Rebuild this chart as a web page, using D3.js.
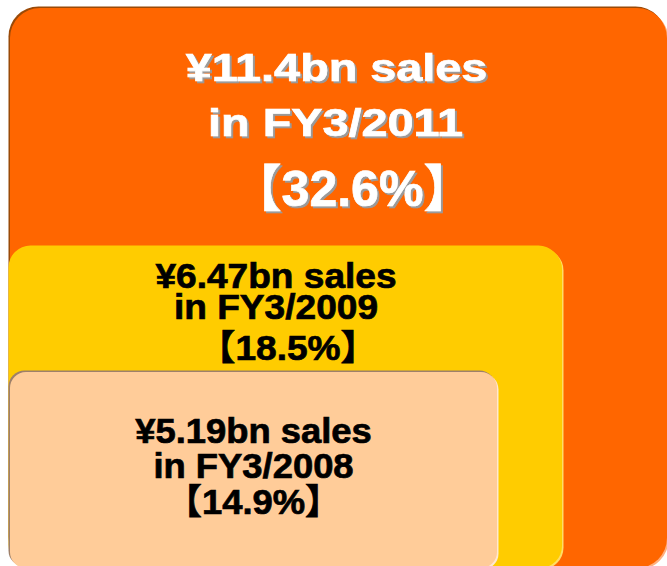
<!DOCTYPE html>
<html>
<head>
<meta charset="utf-8">
<script src="https://cdn.jsdelivr.net/npm/d3@7"></script>
<style>
  body { margin: 0; background: #fff; }
  svg { display: block; }
  text { font-family: "Liberation Sans", Arial, "Noto Sans CJK JP", sans-serif; font-weight: bold; }
</style>
</head>
<body>
<div id="container"></div>
<script>
// sales figures, smallest year first
var years = ['FY3/2008', 'FY3/2009', 'FY3/2011'];
var sales = [5.19, 6.47, 11.4];     // ¥bn
var shares = [14.9, 18.5, 32.6];    // %

var width = 667, height = 566;
var bottom = 568, left = 10;

var svg = d3.select('div#container')
	.append('svg')
	.attr('width', width)
	.attr('height', height);

// grey shadow under the white text
var defs = svg.append('defs');
defs.append('filter')
	.attr('id', 'shadow')
	.attr('x', '-10%').attr('y', '-10%')
	.attr('width', '120%').attr('height', '130%')
	.append('feDropShadow')
	.attr('dx', 2)
	.attr('dy', 2)
	.attr('stdDeviation', 0.3)
	.attr('flood-color', '#9A9A9A')
	.attr('flood-opacity', 1);

// box edges come from the sales value (piecewise)
var xRight = d3.scaleLinear().domain(sales).range([497, 562, 667]);
var yTop = d3.scaleLinear().domain(sales).range([372, 247, 8]);

var fill = d3.scaleOrdinal().domain(years).range(['#FFCC99', '#FFCC00', '#FF6600']);
var darkEdge = d3.scaleOrdinal().domain(years).range(['#9E806A', '#FFCC00', '#9A4A08']);
var lightEdge = d3.scaleOrdinal().domain(years).range(['#FFE8D0', '#FFDD66', '#FFB080']);
var corner = d3.scaleOrdinal().domain(years).range([16, 22, 30]);

// per box text settings
var textStyle = {
	'FY3/2008': {color: '#000', shadow: false, size: [35, 35, 35], sx: [1.04, 1.04, 1.04], base: [71, 106, 142], dx: [0, 0, 0]},
	'FY3/2009': {color: '#000', shadow: false, size: [35, 35, 35], sx: [1.06, 1.06, 1.06], base: [41, 72, 113], dx: [-10, -10, 2]},
	'FY3/2011': {color: '#fff', shadow: true, size: [39, 39, 50], sx: [1.2, 1.2, 1.0], base: [73, 128, 198], dx: [-2, -3, 14]}
};

var data = years.map(function(y, i) {
	return {year: y, sales: sales[i], share: shares[i]};
});

// biggest box drawn first
var boxes = svg.selectAll('g.box')
	.data(data.slice().reverse())
	.join('g')
	.attr('class', 'box');

boxes.append('rect')
	.attr('x', left + 1.5)
	.attr('y', d => yTop(d.sales) + 1.5)
	.attr('width', d => xRight(d.sales) - left)
	.attr('height', d => bottom - yTop(d.sales))
	.attr('rx', d => corner(d.year))
	.attr('fill', d => lightEdge(d.year));

boxes.append('rect')
	.attr('x', left - 1.5)
	.attr('y', d => yTop(d.sales) - 1.5)
	.attr('width', d => xRight(d.sales) - left)
	.attr('height', d => bottom - yTop(d.sales))
	.attr('rx', d => corner(d.year))
	.attr('fill', d => darkEdge(d.year));

boxes.append('rect')
	.attr('x', left)
	.attr('y', d => yTop(d.sales))
	.attr('width', d => xRight(d.sales) - left)
	.attr('height', d => bottom - yTop(d.sales))
	.attr('rx', d => corner(d.year))
	.attr('fill', d => fill(d.year));

function lines(d) {
	return ['¥' + d.sales + 'bn sales', 'in ' + d.year, '【' + d.share + '%】'];
}

boxes.each(function(d) {
	var g = d3.select(this);
	var st = textStyle[d.year];
	var cx = (left + xRight(d.sales)) / 2;
	var top = yTop(d.sales);
	var label = g.append('g')
		.attr('filter', st.shadow ? 'url(#shadow)' : null);
	lines(d).forEach(function(txt, i) {
		label.append('text')
			.attr('transform', 'translate(' + (cx + st.dx[i]) + ',' + (top + st.base[i]) + ') scale(' + st.sx[i] + ',1)')
			.attr('text-anchor', 'middle')
			.attr('font-size', st.size[i] + 'px')
			.attr('fill', st.color)
			.attr('stroke', st.color)
			.attr('stroke-width', 0.7)
			.text(txt);
	});
});
</script>
</body>
</html>
